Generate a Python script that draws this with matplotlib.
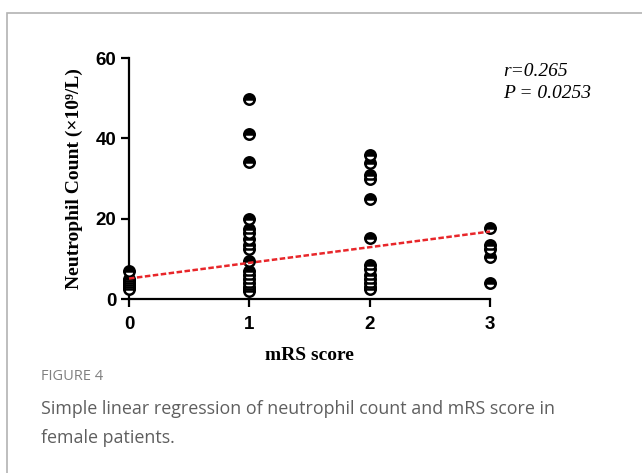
import numpy as np
import matplotlib.pyplot as plt
from matplotlib.patches import Rectangle

# neutrophil count (x10^9/L) for each mRS group
mrs_scores = [0, 1, 2, 3]
counts_0 = [7.0, 5.0, 4.5, 4.0, 3.5, 3.0, 2.5]
counts_1 = [49.7, 41.0, 34.0, 19.8, 17.5, 16.5, 15.0, 13.5, 12.5, 9.5,
            7.0, 6.0, 5.0, 4.0, 3.0, 2.5, 2.0]
counts_2 = [35.8, 33.9, 30.8, 30.0, 25.0, 15.3, 8.5, 7.5, 6.0, 5.0, 4.0, 3.0, 2.5]
counts_3 = [17.8, 13.5, 12.5, 10.5, 4.0]
groups = [counts_0, counts_1, counts_2, counts_3]

# fitted line
intercept = 5.1
slope = 3.9
r_text = "r=0.265"
p_text = "P = 0.0253"

fig = plt.figure(figsize=(6.42, 4.73), dpi=100)
fig.patch.set_facecolor('white')

# light panel border
fig.patches.append(Rectangle((7/642, -0.1), 1.2, 1 - 13/473 + 0.1,
                             transform=fig.transFigure, fill=False,
                             edgecolor='#b3b3b3', linewidth=1.2))

ax = fig.add_axes([129/642, 1 - 299/473, (490 - 129)/642, (299 - 58)/473])

for xv, ys in zip(mrs_scores, groups):
    ax.plot([xv]*len(ys), ys, linestyle='none', marker='o', markersize=7.5,
            fillstyle='top', markerfacecolor='black', markerfacecoloralt='white',
            markeredgecolor='black', markeredgewidth=1.8, clip_on=False, zorder=3)

xfit = np.array([0, 3])
ax.plot(xfit, intercept + slope*xfit, color='#e8262a', linestyle=(0, (2.2, 1.0)),
        linewidth=1.8, zorder=4, clip_on=False)

ax.set_xlim(0, 3)
ax.set_ylim(0, 60)
ax.set_xticks(mrs_scores)
ax.set_yticks([0, 20, 40, 60])
for s in ['top', 'right']:
    ax.spines[s].set_visible(False)
for s in ['left', 'bottom']:
    ax.spines[s].set_linewidth(1.6)
ax.tick_params(width=1.6, length=6, direction='out', pad=3)
ax.tick_params(axis='x', pad=6)
for lab in ax.get_xticklabels() + ax.get_yticklabels():
    lab.set_fontfamily('Liberation Sans')
    lab.set_fontweight('bold')
    lab.set_fontsize(13.5)

ax.set_xlabel("mRS score", family='Liberation Serif', fontweight='bold',
              fontsize=14, labelpad=10)
ax.set_ylabel("Neutrophil Count (×10⁹/L)", family='Liberation Serif',
              fontweight='bold', fontsize=14, labelpad=9)

fig.text(503/642, 1 - 72/473, r_text, family='Liberation Serif', style='italic',
         fontsize=14, va='center')
fig.text(503/642, 1 - 94/473, p_text, family='Liberation Serif', style='italic',
         fontsize=14, va='center')

fig.text(41/642, 1 - 376/473, "FIGURE 4", family='Open Sans', fontsize=10.5,
         color='#808080', va='center')
fig.text(41/642, 1 - 409/473, "Simple linear regression of neutrophil count and mRS score in",
         family='Open Sans', fontsize=12.9, color='#5f5f5f', va='center')
fig.text(41/642, 1 - 438/473, "female patients.",
         family='Open Sans', fontsize=12.9, color='#5f5f5f', va='center')

fig.savefig("out.png", dpi=100)
